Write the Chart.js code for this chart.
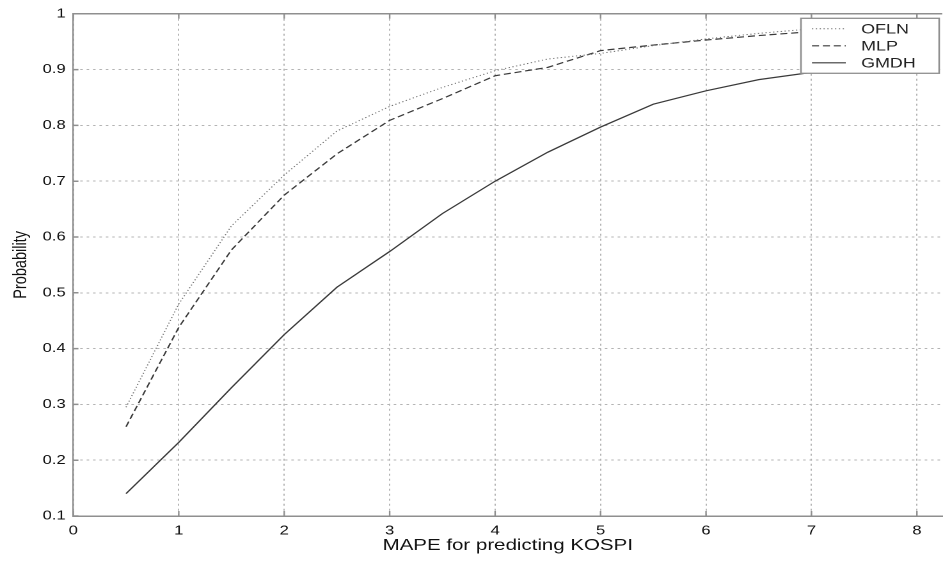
<!DOCTYPE html>
<html>
<head>
<meta charset="utf-8">
<script src="https://cdn.jsdelivr.net/npm/chart.js@4/dist/chart.umd.min.js"></script>
<style>
  html, body { margin: 0; padding: 0; background: #fff; overflow: hidden; }
  /* the original figure is stretched sideways, so draw narrow and stretch */
  #wrap { width: 737px; height: 561px; position: relative; transform: scaleX(1.2795); transform-origin: 0 0; }
</style>
</head>
<body>
<div id="wrap"><canvas id="kospi_chart"></canvas></div>
<script>
// values
const mapeValues = [0.5, 1, 1.5, 2, 2.5, 3, 3.5, 4, 4.5, 5, 5.5, 6, 6.5, 7];
const oflnValues = [0.295, 0.48, 0.62, 0.711, 0.79, 0.834, 0.868, 0.898, 0.919, 0.929, 0.943, 0.955, 0.965, 0.973];
const mlpValues  = [0.26, 0.438, 0.577, 0.675, 0.749, 0.809, 0.848, 0.889, 0.904, 0.934, 0.944, 0.953, 0.961, 0.968];
const gmdhValues = [0.14, 0.232, 0.33, 0.425, 0.51, 0.574, 0.642, 0.70, 0.752, 0.797, 0.838, 0.862, 0.882, 0.895];
const seriesNames = ['OFLN', 'MLP', 'GMDH'];
const xTickValues = [0, 1, 2, 3, 4, 5, 6, 7, 8];

const toPoints = (vals) => vals.map((v, i) => ({x: mapeValues[i], y: v}));

const FONT = '"Liberation Sans", Arial, sans-serif';
const AXIS_GREY = '#8f8f8f';

// matlab style box: top border and small inward ticks
const boxPlugin = {
  id: 'box',
  afterDraw(chart) {
    const {ctx, chartArea, scales} = chart;
    ctx.save();
    ctx.strokeStyle = AXIS_GREY;
    ctx.lineWidth = 1.5;
    ctx.beginPath();
    ctx.moveTo(chartArea.left, chartArea.top);
    ctx.lineTo(chartArea.right, chartArea.top);
    ctx.stroke();
    ctx.lineWidth = 1.2;
    ctx.beginPath();
    xTickValues.forEach(v => {
      const px = scales.x.getPixelForValue(v);
      ctx.moveTo(px, chartArea.bottom);
      ctx.lineTo(px, chartArea.bottom - 5);
      ctx.moveTo(px, chartArea.top);
      ctx.lineTo(px, chartArea.top + 5);
    });
    ctx.stroke();
    ctx.lineWidth = 1.5;
    ctx.beginPath();
    scales.y.ticks.forEach(t => {
      const py = scales.y.getPixelForValue(t.value);
      ctx.moveTo(chartArea.left, py);
      ctx.lineTo(chartArea.left + 4, py);
    });
    ctx.stroke();
    ctx.restore();
  }
};

// legend box drawn inside the plot, like matlab
const legendPlugin = {
  id: 'boxLegend',
  afterDraw(chart) {
    const {ctx, chartArea} = chart;
    const x0 = chartArea.right - 110.4, y0 = 18.3;
    const w = 108, h = 55;
    ctx.save();
    ctx.fillStyle = '#fff';
    ctx.fillRect(x0, y0, w, h);
    ctx.strokeStyle = AXIS_GREY;
    ctx.lineWidth = 1.3;
    ctx.strokeRect(x0, y0, w, h);
    ctx.font = '14px ' + FONT;
    ctx.textBaseline = 'middle';
    chart.data.datasets.forEach((ds, i) => {
      const yy = y0 + 10.5 + i * 17;
      ctx.strokeStyle = ds.borderColor;
      ctx.lineWidth = ds.borderWidth;
      ctx.setLineDash(ds.borderDash || []);
      ctx.beginPath();
      ctx.moveTo(x0 + 8.6, yy);
      ctx.lineTo(x0 + 35, yy);
      ctx.stroke();
      ctx.setLineDash([]);
      ctx.fillStyle = '#222';
      ctx.fillText(ds.label, x0 + 47, yy + 1);
    });
    ctx.restore();
  }
};

const data = {
  datasets: [
    {
      label: seriesNames[0],
      data: toPoints(oflnValues),
      borderColor: '#707070',
      borderWidth: 1,
      borderDash: [1, 2],
      pointRadius: 0,
      fill: false
    },
    {
      label: seriesNames[1],
      data: toPoints(mlpValues),
      borderColor: '#3a3a3a',
      borderWidth: 1.2,
      borderDash: [5.5, 3],
      pointRadius: 0,
      fill: false
    },
    {
      label: seriesNames[2],
      data: toPoints(gmdhValues),
      borderColor: '#3a3a3a',
      borderWidth: 1.2,
      pointRadius: 0,
      fill: false
    }
  ]
};

const config = {
  type: 'line',
  data: data,
  options: {
    responsive: true,
    maintainAspectRatio: false,
    animation: false,
    devicePixelRatio: 2,
    layout: { padding: { left: 0, right: 0, top: 11, bottom: 0 } },
    plugins: {
      legend: { display: false },
      tooltip: { enabled: false }
    },
    scales: {
      x: {
        type: 'linear',
        min: 0,
        max: 8.24,
        afterBuildTicks: (scale) => {
          scale.ticks = xTickValues.map(v => ({value: v}));
        },
        afterFit: (scale) => { scale.height = 45; },
        ticks: {
          color: '#111',
          padding: 7,
          maxRotation: 0,
          font: { family: FONT, size: 13 }
        },
        grid: {
          color: '#b4b4b4',
          lineWidth: 1,
          drawTicks: false
        },
        border: { display: true, color: AXIS_GREY, width: 1.5, dash: [2, 3] },
        title: {
          display: true,
          text: 'MAPE for predicting KOSPI',
          color: '#111',
          padding: { top: 0, bottom: 6 },
          font: { family: FONT, size: 16 }
        }
      },
      y: {
        min: 0.1,
        max: 1,
        afterFit: (scale) => { scale.width = 57.3; },
        ticks: {
          stepSize: 0.1,
          color: '#111',
          padding: 6,
          font: { family: FONT, size: 13 },
          callback: (v) => {
            const r = Math.round(v * 10) / 10;
            return r === 1 ? '1' : r.toFixed(1);
          }
        },
        grid: {
          color: '#b4b4b4',
          lineWidth: 1,
          drawTicks: false
        },
        border: { display: true, color: AXIS_GREY, width: 1.2, dash: [2, 3] },
        title: {
          display: true,
          text: 'Probability',
          color: '#111',
          padding: { top: 8, bottom: 4 },
          font: { family: FONT, size: 14.5 }
        }
      }
    }
  },
  plugins: [boxPlugin, legendPlugin]
};

const createChart = () => {
  new Chart(document.getElementById('kospi_chart'), config);
};

createChart();
</script>
</body>
</html>
